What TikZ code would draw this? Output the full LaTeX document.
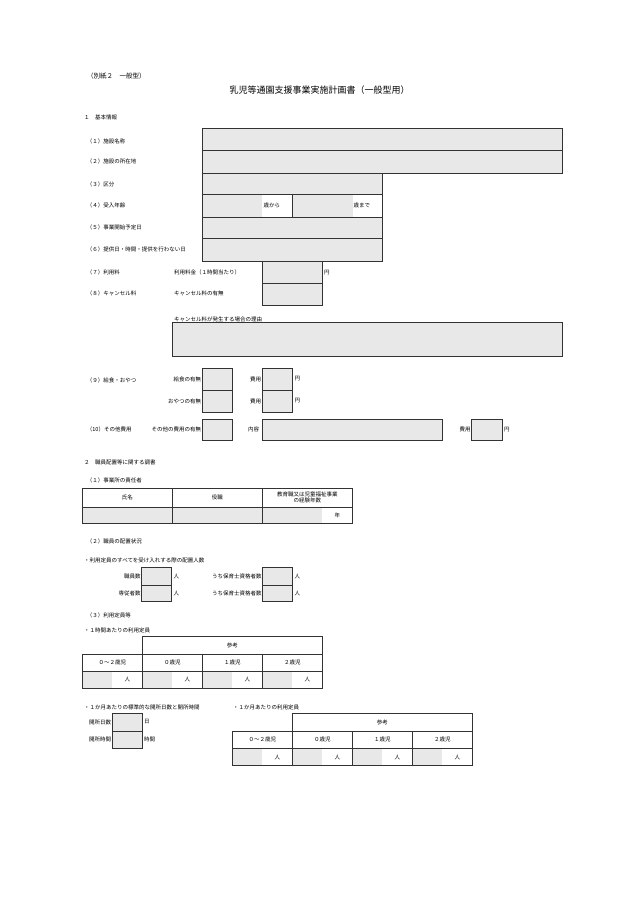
\documentclass[tikz,border=0pt]{standalone}
\usepackage{fontspec}
\newfontfamily\jp{Noto Sans CJK JP}
\definecolor{formgray}{RGB}{232,232,232}
\tikzset{
  box/.style={draw=black!80, fill=formgray, line width=0.8pt},
  frame/.style={draw=black!80, line width=0.8pt},
  lbl/.style={anchor=west, inner sep=0pt, font=\jp\fontsize{5.5}{6.5}\selectfont},
  rlbl/.style={anchor=east, inner sep=1pt, font=\jp\fontsize{5.5}{6.5}\selectfont},
  clbl/.style={inner sep=0pt, align=center, font=\jp\fontsize{5.5}{6.5}\selectfont},
}
\begin{document}
\begin{tikzpicture}[x=1pt,y=-1pt]
  \useasboundingbox (0,0) rectangle (630,903);
  % heading
  \node[lbl, font=\jp\fontsize{6.5}{7}\selectfont] (annex) at (87,75.7) {（別紙２　一般型）};
  \node[inner sep=0pt, font=\jp\fontsize{9}{10}\selectfont] (title) at (319.5,90) {乳児等通園支援事業実施計画書（一般型用）};
  % 1 basic information
  \node[lbl] (s1) at (84,117.3) {１　基本情報};
  \node[lbl] (l1) at (86.7,141) {（１）施設名称};
  \node[lbl] (l2) at (86.7,161.7) {（２）施設の所在地};
  \node[lbl] (l3) at (86.7,184) {（３）区分};
  \node[lbl] (l4) at (86.7,205.7) {（４）受入年齢};
  \node[lbl] (l5) at (86.7,227.7) {（５）事業開始予定日};
  \node[lbl] (l6) at (86.7,249) {（６）提供日・時間・提供を行わない日};
  \node[lbl] (l7) at (86.7,272.3) {（７）利用料};
  \node[lbl] (l8) at (86.7,293.7) {（８）キャンセル料};
  \draw[box] (202.3,128.3) rectangle (562.3,150.3);
  \draw[box] (202.3,150.3) rectangle (562.3,173);
  \draw[box] (202.3,173) rectangle (382.3,194.3);
  \fill[formgray] (202.3,194.3) rectangle (262.3,217.3);
  \fill[formgray] (292.3,194.3) rectangle (352.7,217.3);
  \draw[frame] (202.3,194.3) rectangle (292.3,217.3);
  \draw[frame] (292.3,194.3) rectangle (382.3,217.3);
  \node[lbl] (from) at (263.5,205.7) {歳から};
  \node[lbl] (to) at (353.5,205.7) {歳まで};
  \draw[box] (202.3,217.3) rectangle (382.3,238.7);
  \draw[box] (202.3,238.7) rectangle (382.3,261);
  \node[lbl] (fee) at (174,272.3) {利用料金（１時間当たり）};
  \draw[box] (262.3,261) rectangle (322.3,283);
  \node[lbl] (yen7) at (324,272.3) {円};
  \node[lbl] (cancel) at (174,293.7) {キャンセル料の有無};
  \draw[box] (262.3,283) rectangle (322.3,305);
  \node[lbl] (reason) at (174,319) {キャンセル料が発生する場合の理由};
  \draw[box] (172.3,322.3) rectangle (562.3,356.7);
  % (9) meals
  \node[lbl] (l9) at (86.7,380.7) {（９）給食・おやつ};
  \node[rlbl] (meal) at (202.3,379) {給食の有無};
  \node[rlbl] (snack) at (202.3,401) {おやつの有無};
  \draw[box] (202.3,368.3) rectangle (232.3,390);
  \draw[box] (202.3,390) rectangle (232.3,412.3);
  \node[rlbl] (cost9a) at (262.3,379) {費用};
  \node[rlbl] (cost9b) at (262.3,401) {費用};
  \draw[box] (262.3,368.3) rectangle (292.3,390);
  \draw[box] (262.3,390) rectangle (292.3,412.3);
  \node[lbl] (yen9a) at (294.5,379) {円};
  \node[lbl] (yen9b) at (294.5,401) {円};
  % (10) other costs
  \node[lbl] (l10) at (86.7,429.5) {（10）その他費用};
  \node[rlbl] (other) at (202.3,429.5) {その他の費用の有無};
  \draw[box] (202.3,419) rectangle (232.3,440);
  \node[lbl] (content) at (248,429.5) {内容};
  \draw[box] (262.3,419) rectangle (442.3,440);
  \node[rlbl] (cost10) at (471.7,429.5) {費用};
  \draw[box] (471.7,419) rectangle (502.3,440);
  \node[lbl] (yen10) at (504,429.5) {円};
  % 2 staffing
  \node[lbl] (s2) at (84,462.3) {２　職員配置等に関する調書};
  \node[lbl] (m1) at (86.7,480) {（１）事業所の責任者};
  \fill[formgray] (82.3,507.3) rectangle (322.3,523.3);
  \draw[frame] (82.3,488.3) rectangle (352.3,523.3);
  \draw[frame] (82.3,507.3) -- (352.3,507.3);
  \draw[frame] (172.3,488.3) -- (172.3,523.3);
  \draw[frame] (262.3,488.3) -- (262.3,523.3);
  \node[clbl] (name) at (127.3,497.8) {氏名};
  \node[clbl] (post) at (217.3,497.8) {役職};
  \node[clbl] (years) at (307.3,497.5) {教育職又は児童福祉事業\\の経験年数};
  \node[clbl] (yr) at (337.3,515.3) {年};
  \node[lbl] (m2) at (86.7,541.7) {（２）職員の配置状況};
  \node[lbl] (alloc) at (84,560) {・利用定員のすべてを受け入れする際の配置人数};
  \node[rlbl] (staff) at (141.7,576) {職員数};
  \node[rlbl] (full) at (141.7,593.3) {専従者数};
  \draw[box] (141.7,567.3) rectangle (171.7,585);
  \draw[box] (141.7,585) rectangle (171.7,601.7);
  \node[lbl] (p1) at (173.5,576) {人};
  \node[lbl] (p2) at (173.5,593.3) {人};
  \node[rlbl] (qual1) at (262.7,576) {うち保育士資格者数};
  \node[rlbl] (qual2) at (262.7,593.3) {うち保育士資格者数};
  \draw[box] (262.7,567.3) rectangle (292.3,585);
  \draw[box] (262.7,585) rectangle (292.3,601.7);
  \node[lbl] (p3) at (294.5,576) {人};
  \node[lbl] (p4) at (294.5,593.3) {人};
  % (3) capacity
  \node[lbl] (m3) at (86.7,615) {（３）利用定員等};
  \node[lbl] (hour) at (84,630) {・１時間あたりの利用定員};
  \begin{scope}[shift={(82.3,636.7)}, name prefix=a-]
    \draw[frame] (60,0) rectangle (240,17.3);
    \node[clbl] (ref) at (150,8.7) {参考};
    \foreach \t [count=\i from 0] in {０～２歳児,０歳児,１歳児,２歳児} {
      \fill[formgray] ({60*\i},34.7) rectangle ({60*\i+30},51.7);
      \draw[frame] ({60*\i},17.3) rectangle ({60*\i+60},51.7);
      \draw[frame] ({60*\i},34.7) -- ({60*\i+60},34.7);
      \node[clbl] (age\i) at ({60*\i+30},26) {\t};
      \node[clbl] (n\i) at ({60*\i+45},43.2) {人};
    }
  \end{scope}
  \node[lbl] (days) at (84,707.3) {・１か月あたりの標準的な開所日数と開所時間};
  \node[rlbl] (dayl) at (112.3,722) {開所日数};
  \node[rlbl] (hrl) at (112.3,739.7) {開所時間};
  \draw[box] (112.3,713.3) rectangle (142.3,731);
  \draw[box] (112.3,731) rectangle (142.3,748.3);
  \node[lbl] (day) at (144,722) {日};
  \node[lbl] (hr) at (144,739.7) {時間};
  \node[lbl] (month) at (233,707.3) {・１か月あたりの利用定員};
  \begin{scope}[shift={(232.3,713.3)}, name prefix=b-]
    \draw[frame] (60,0) rectangle (240,17.7);
    \node[clbl] (ref) at (150,8.8) {参考};
    \foreach \t [count=\i from 0] in {０～２歳児,０歳児,１歳児,２歳児} {
      \fill[formgray] ({60*\i},35) rectangle ({60*\i+30},52.4);
      \draw[frame] ({60*\i},17.7) rectangle ({60*\i+60},52.4);
      \draw[frame] ({60*\i},35) -- ({60*\i+60},35);
      \node[clbl] (age\i) at ({60*\i+30},26.3) {\t};
      \node[clbl] (n\i) at ({60*\i+45},43.7) {人};
    }
  \end{scope}
\end{tikzpicture}
\end{document}
